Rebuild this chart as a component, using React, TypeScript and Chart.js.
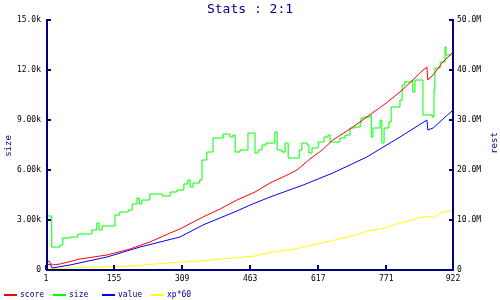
import React, { useEffect, useRef } from "react";
import { Chart, registerables } from "chart.js";

Chart.register(...registerables);

const NAVY = "#000080";
const MONO = "'DejaVu Sans Mono', monospace";

const titleText = "Stats : 2:1";
const leftAxisTitle = "size";
const rightAxisTitle = "rest";

const xTicks = [1, 155, 309, 463, 617, 771, 922];
const leftTicks = [0, 3000, 6000, 9000, 12000, 15000];
const leftTickLabels = ["0", "3.00k", "6.00k", "9.00k", "12.0k", "15.0k"];
const rightTicks = [0, 10e6, 20e6, 30e6, 40e6, 50e6];
const rightTickLabels = ["0", "10.0M", "20.0M", "30.0M", "40.0M", "50.0M"];

const seriesNames = ["score", "size", "value", "xp*60"];
const seriesColors = ["#ff0000", "#00ff00", "#0000ff", "#ffff00"];

// size (left axis)
const sizeIdx = [1, 3, 12, 14, 33, 39, 55, 73, 101, 105, 116, 121, 128, 150, 157, 168, 187, 196, 207, 212, 218, 236, 259, 264, 282, 297, 313, 322, 327, 334, 349, 354, 365, 377, 379, 399, 402, 417, 424, 429, 440, 451, 458, 467, 474, 481, 490, 499, 515, 519, 524, 535, 542, 549, 569, 574, 580, 592, 596, 603, 617, 630, 639, 644, 660, 666, 678, 689, 700, 712, 714, 723, 734, 737, 741, 752, 757, 761, 766, 777, 782, 802, 807, 813, 829, 831, 836, 852, 854, 875, 879, 881, 893, 904, 906, 922];
const sizeVal = [2580, 3240, 3240, 1380, 1500, 1920, 1980, 2160, 2160, 2400, 2820, 2400, 2640, 2640, 3300, 3480, 3600, 3960, 4320, 3960, 4200, 4560, 4560, 4440, 4680, 4800, 5160, 5400, 4980, 5220, 5400, 6600, 7080, 7080, 7920, 7920, 8160, 7980, 8100, 7080, 7200, 7200, 8220, 8220, 7020, 7200, 7500, 7620, 7620, 8280, 7200, 7080, 7620, 6720, 6720, 7200, 7620, 7500, 7020, 7320, 7680, 7980, 8100, 7680, 7680, 7920, 8100, 8520, 8580, 8820, 9120, 9180, 9300, 7980, 8520, 8520, 9000, 7620, 8520, 8880, 9780, 10200, 11100, 11280, 11400, 10680, 11400, 11400, 9300, 9180, 10800, 12120, 12480, 13380, 12900, 12900];

// score (right axis)
const scoreIdx = [1, 8, 15, 33, 78, 139, 191, 236, 282, 304, 356, 395, 433, 474, 508, 542, 569, 598, 626, 650, 689, 727, 768, 802, 831, 847, 863, 865, 877, 899, 922];
const scoreVal = [1.6e6, 1.8e6, 1.0e6, 1.2e6, 2.2e6, 3.0e6, 4.2e6, 5.6e6, 7.4e6, 8.2e6, 10.6e6, 12.2e6, 14.0e6, 15.6e6, 17.4e6, 18.8e6, 20.0e6, 22.2e6, 24.0e6, 26.0e6, 28.2e6, 30.6e6, 33.2e6, 35.6e6, 38.0e6, 39.4e6, 40.6e6, 38.0e6, 39.0e6, 41.6e6, 43.6e6];

// value (right axis)
const valueIdx = [1, 10, 15, 55, 139, 214, 304, 356, 433, 463, 508, 583, 650, 727, 802, 863, 865, 877, 922];
const valueVal = [1.0e6, 1.2e6, 0.4e6, 1.0e6, 2.6e6, 4.6e6, 6.6e6, 9.0e6, 11.8e6, 13.0e6, 14.6e6, 17.0e6, 19.4e6, 22.6e6, 26.6e6, 30.0e6, 28.0e6, 28.4e6, 32.0e6];

// xp*60 (right axis)
const xpIdx = [1, 49, 116, 198, 275, 349, 424, 474, 508, 558, 605, 650, 689, 730, 768, 802, 843, 870, 875, 893, 922];
const xpVal = [0.2e6, 0.4e6, 0.6e6, 0.8e6, 1.4e6, 1.8e6, 2.4e6, 2.8e6, 3.5e6, 4.1e6, 5.0e6, 5.9e6, 6.7e6, 7.8e6, 8.4e6, 9.4e6, 10.4e6, 10.8e6, 10.4e6, 11.4e6, 12.0e6];

const pts = (xs: number[], ys: number[]) => xs.map((x, i) => ({ x, y: ys[i] }));

const decorPlugin = {
  id: "decor",
  afterDatasetsDraw(chart: any) {
    const { ctx, chartArea, scales } = chart;
    const { left, right, top, bottom } = chartArea;
    ctx.save();
    ctx.fillStyle = NAVY;
    // axis lines
    ctx.fillRect(left, top, 2, bottom - top + 1);
    ctx.fillRect(right - 1, top, 2, bottom - top + 1);
    ctx.fillRect(left, bottom - 1, right - left + 1, 2);
    // inward ticks
    leftTicks.forEach((v) => {
      const y = Math.round(scales.y.getPixelForValue(v));
      ctx.fillRect(left, y - 1, 5, 2);
    });
    rightTicks.forEach((v) => {
      const y = Math.round(scales.y2.getPixelForValue(v));
      ctx.fillRect(right - 4, y - 1, 5, 2);
    });
    xTicks.forEach((v) => {
      const x = Math.round(scales.x.getPixelForValue(v));
      ctx.fillRect(x - 1, bottom - 5, 2, 5);
    });
    // title
    ctx.font = `13px ${MONO}`;
    ctx.textAlign = "center";
    ctx.textBaseline = "middle";
    ctx.fillText(titleText, 250, 10);
    // axis titles
    ctx.font = `9px ${MONO}`;
    ctx.save();
    ctx.translate(9, 146);
    ctx.rotate(-Math.PI / 2);
    ctx.fillText(leftAxisTitle, 0, 0);
    ctx.restore();
    ctx.save();
    ctx.translate(495, 143);
    ctx.rotate(-Math.PI / 2);
    ctx.fillText(rightAxisTitle, 0, 0);
    ctx.restore();
    // legend
    ctx.font = `8px ${MONO}`;
    ctx.textAlign = "left";
    seriesNames.forEach((name, i) => {
      const x0 = 4 + i * 49;
      ctx.fillStyle = seriesColors[i];
      ctx.fillRect(x0, 294, 13, 2);
      ctx.fillStyle = NAVY;
      ctx.fillText(name, x0 + 16, 295);
    });
    ctx.restore();
  },
};

export default function App() {
  const ref = useRef<HTMLCanvasElement | null>(null);
  useEffect(() => {
    if (!ref.current) return;
    const tickFont = { family: MONO, size: 8 };
    const noGrid = { display: false, drawTicks: false };
    const chart = new Chart(ref.current, {
      type: "line",
      data: {
        datasets: [
          { label: seriesNames[0], data: pts(scoreIdx, scoreVal), borderColor: seriesColors[0], yAxisID: "y2", borderWidth: 1, pointRadius: 0, tension: 0 },
          { label: seriesNames[1], data: pts(sizeIdx, sizeVal), borderColor: seriesColors[1], yAxisID: "y", borderWidth: 1, pointRadius: 0, stepped: true },
          { label: seriesNames[2], data: pts(valueIdx, valueVal), borderColor: seriesColors[2], yAxisID: "y2", borderWidth: 1, pointRadius: 0, tension: 0 },
          { label: seriesNames[3], data: pts(xpIdx, xpVal), borderColor: seriesColors[3], yAxisID: "y2", borderWidth: 1, pointRadius: 0, tension: 0 },
        ],
      },
      options: {
        responsive: false,
        animation: false,
        events: [],
        layout: { padding: { top: 20, left: 0, right: 0, bottom: 0 } },
        plugins: { legend: { display: false }, title: { display: false }, tooltip: { enabled: false } },
        scales: {
          x: {
            type: "linear",
            min: 1,
            max: 922,
            grid: noGrid,
            border: { display: false },
            afterBuildTicks: (s: any) => { s.ticks = xTicks.map((v) => ({ value: v })); },
            afterFit: (s: any) => { s.height = 30; },
            ticks: { font: tickFont, color: "#000", padding: 4, maxRotation: 0, autoSkip: false, callback: (v: any) => String(v) },
          },
          y: {
            type: "linear",
            position: "left",
            min: 0,
            max: 15000,
            grid: noGrid,
            border: { display: false },
            afterBuildTicks: (s: any) => { s.ticks = leftTicks.map((v) => ({ value: v })); },
            afterFit: (s: any) => { s.width = 46; },
            ticks: { font: tickFont, color: "#000", padding: 5, autoSkip: false, callback: (v: any) => leftTickLabels[leftTicks.indexOf(v)] ?? "" },
          },
          y2: {
            type: "linear",
            position: "right",
            min: 0,
            max: 50e6,
            grid: noGrid,
            border: { display: false },
            afterBuildTicks: (s: any) => { s.ticks = rightTicks.map((v) => ({ value: v })); },
            afterFit: (s: any) => { s.width = 47; },
            ticks: { font: tickFont, color: "#000", padding: 4, autoSkip: false, callback: (v: any) => rightTickLabels[rightTicks.indexOf(v)] ?? "" },
          },
        },
      },
      plugins: [decorPlugin],
    });
    return () => chart.destroy();
  }, []);
  return (
    <div style={{ position: "absolute", left: 0, top: 0, width: 500, height: 300, background: "#fff" }}>
      <canvas ref={ref} width={500} height={300} style={{ display: "block" }} />
    </div>
  );
}
